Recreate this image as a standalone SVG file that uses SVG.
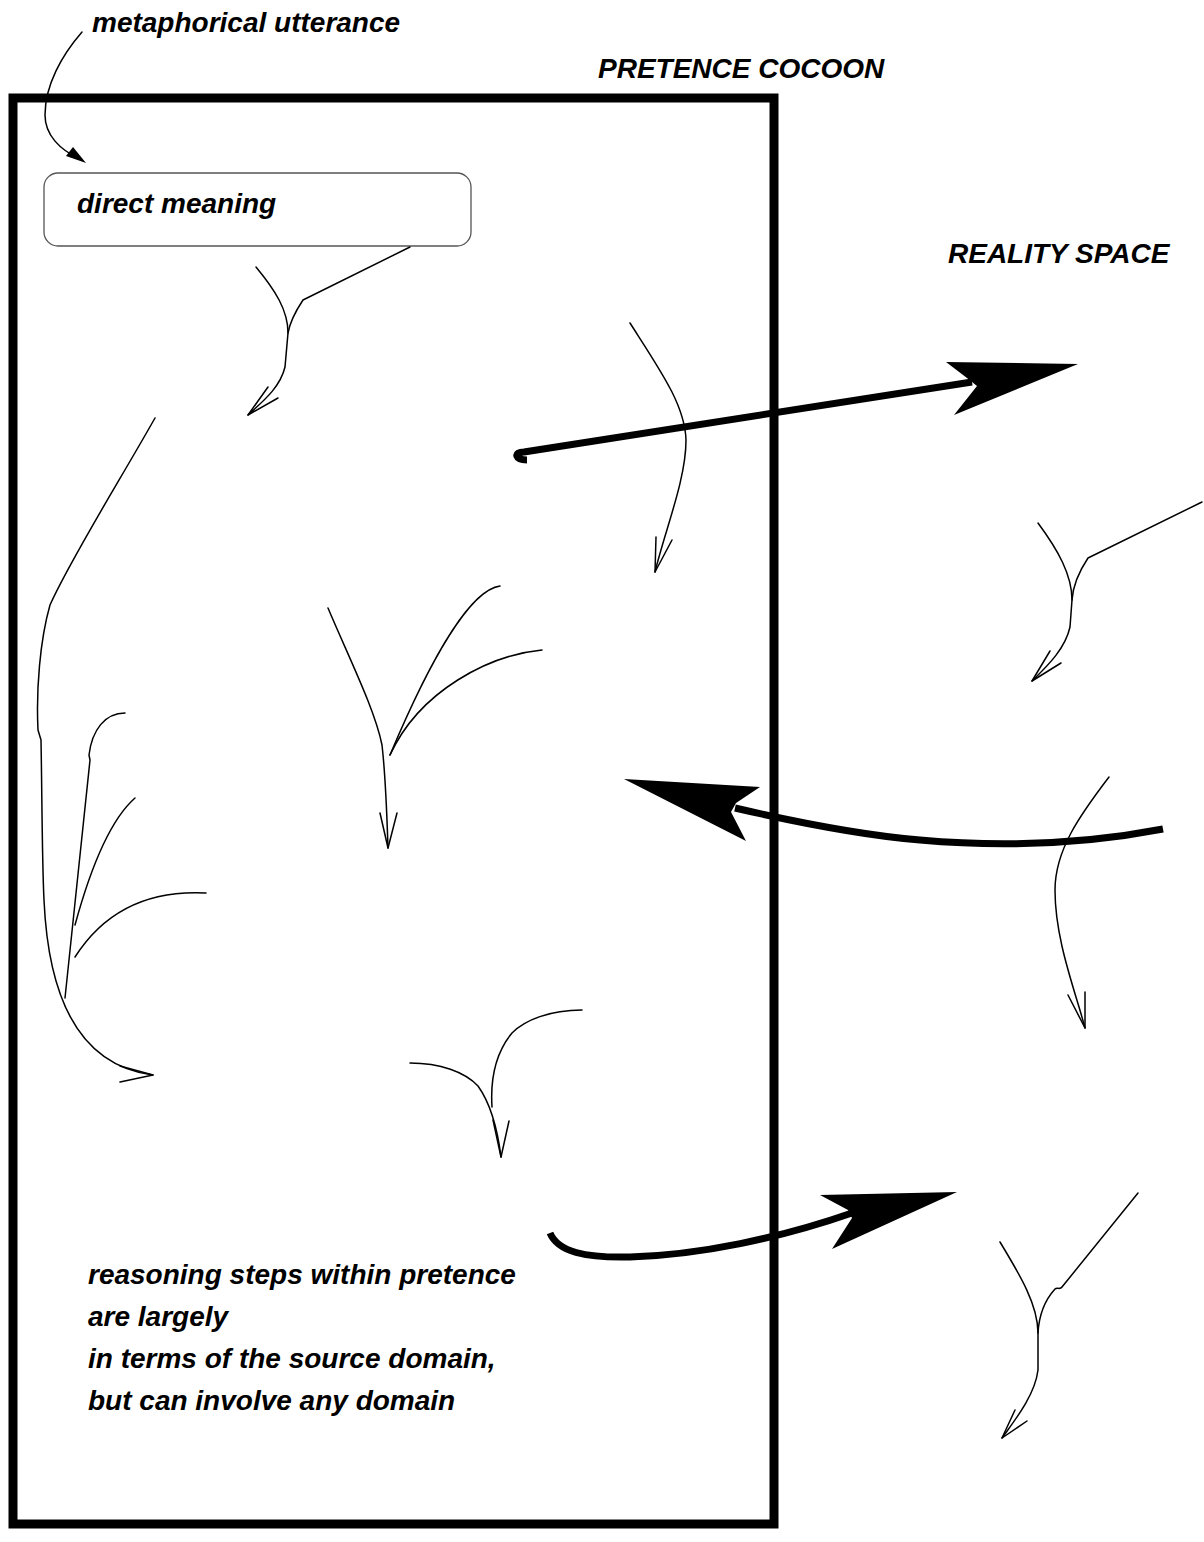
<svg xmlns="http://www.w3.org/2000/svg" width="1204" height="1542" viewBox="0 0 1204 1542">
<style>
.t{font-family:"Liberation Sans",Arial,sans-serif;font-weight:bold;font-style:italic;font-size:28px;fill:#000}
.thin{fill:none;stroke:#000;stroke-width:1.5;stroke-linecap:round;stroke-linejoin:round}
.thick{fill:none;stroke:#000;stroke-width:7;stroke-linecap:butt;stroke-linejoin:round}
.head{fill:#000;stroke:none}
</style>
<rect x="0" y="0" width="1204" height="1542" fill="#fff"/>
<g id="cocoon">
<rect x="13" y="98" width="761" height="1426" fill="none" stroke="#000" stroke-width="9"/>
<text class="t" x="598" y="78">PRETENCE COCOON</text>
</g>
<g id="reality-label"><text class="t" x="948" y="263">REALITY SPACE</text></g>
<g id="utterance"><text class="t" x="92" y="32">metaphorical utterance</text></g>
<g id="direct-meaning">
<rect x="44" y="173" width="427" height="73" rx="14" ry="14" fill="#fff" stroke="#555" stroke-width="1.3"/>
<text class="t" x="77" y="213">direct meaning</text>
</g>
<g id="note">
<text class="t" x="88" y="1284">reasoning steps within pretence</text>
<text class="t" x="88" y="1326">are largely</text>
<text class="t" x="88" y="1368">in terms of the source domain,</text>
<text class="t" x="88" y="1410">but can involve any domain</text>
</g>
<g id="connectors">
<!-- utterance to direct meaning -->
<path class="thin" d="M82,32 C62,55 45,85 45,115 C45,135 60,150 80,159"/>
<polygon class="head" points="86,163 66,156 73,147"/>
<!-- below direct meaning -->
<path class="thin" d="M256,267 C275,290 288,310 288,333"/>
<path class="thin" d="M410,247 L303,300 C295,312 290,322 288,333 L285,367 C280,388 262,402 248,415"/>
<polyline class="thin" points="268,387 248,415 278,398"/>
<!-- top middle curve -->
<path class="thin" d="M630,323 C660,370 685,405 686,440 C686,480 665,530 655,572"/>
<polyline class="thin" points="656,537 655,572 672,540"/>
<!-- long left curve -->
<path class="thin" d="M155,418 C120,480 70,560 50,605 C40,640 36,690 38,730 L41,740 C42,790 42,860 44,900 C48,990 75,1065 153,1075"/>
<polyline class="thin" points="120,1066 153,1075 120,1082"/>
<path class="thin" d="M125,713 C105,713 92,730 89,755 L90,760 L65,998"/>
<path class="thin" d="M135,798 C110,820 90,870 75,925"/>
<path class="thin" d="M206,893 C150,890 105,910 75,957"/>
<!-- middle Y -->
<path class="thin" d="M328,608 C350,660 375,710 382,745 C386,780 387,820 388,848"/>
<path class="thin" d="M500,586 C470,590 430,660 390,755"/>
<path class="thin" d="M542,650 C490,655 420,690 390,755"/>
<polyline class="thin" points="380,813 388,848 397,813"/>
<!-- bottom middle -->
<path class="thin" d="M410,1063 C440,1063 465,1072 478,1086 C488,1100 497,1125 501,1157"/>
<path class="thin" d="M582,1010 C550,1010 525,1020 512,1033 C498,1050 490,1075 492,1107"/>
<polyline class="thin" points="493,1120 501,1157 509,1121"/>
<!-- right upper Y -->
<path class="thin" d="M1038,523 C1058,550 1072,575 1072,600"/>
<path class="thin" d="M1202,502 L1088,558 C1080,570 1073,585 1072,600 L1070,627 C1065,650 1045,668 1032,681"/>
<polyline class="thin" points="1050,651 1032,681 1061,663"/>
<!-- right middle -->
<path class="thin" d="M1109,777 C1080,815 1055,850 1055,890 C1055,940 1075,990 1085,1028"/>
<polyline class="thin" points="1068,995 1085,1028 1085,992"/>
<!-- bottom right -->
<path class="thin" d="M1000,1242 C1020,1275 1038,1305 1038,1333"/>
<path class="thin" d="M1138,1193 L1062,1287 C1060,1290 1057,1287 1055,1289 C1045,1300 1039,1315 1038,1333 L1038,1370 C1035,1395 1015,1420 1002,1438"/>
<polyline class="thin" points="1015,1410 1002,1438 1027,1421"/>
<!-- thick arrow 1 -->
<path class="thick" d="M527,460 C515,460 513,452 524,452 L972,382"/>
<polygon class="head" points="1078,364 946,362 967,378 977,386 954,415"/>
<!-- thick arrow 2 -->
<path class="thick" d="M1163,829 C1090,843 1010,848 920,840 C860,835 800,823 735,808"/>
<polygon class="head" points="624,779 760,787 736,803 731,812 746,841"/>
<!-- thick arrow 3 -->
<path class="thick" d="M550,1233 C558,1252 585,1258 630,1257 C700,1255 780,1238 852,1213"/>
<polygon class="head" points="957,1192 820,1195 848,1210 852,1218 832,1249"/>
</g>
</svg>
